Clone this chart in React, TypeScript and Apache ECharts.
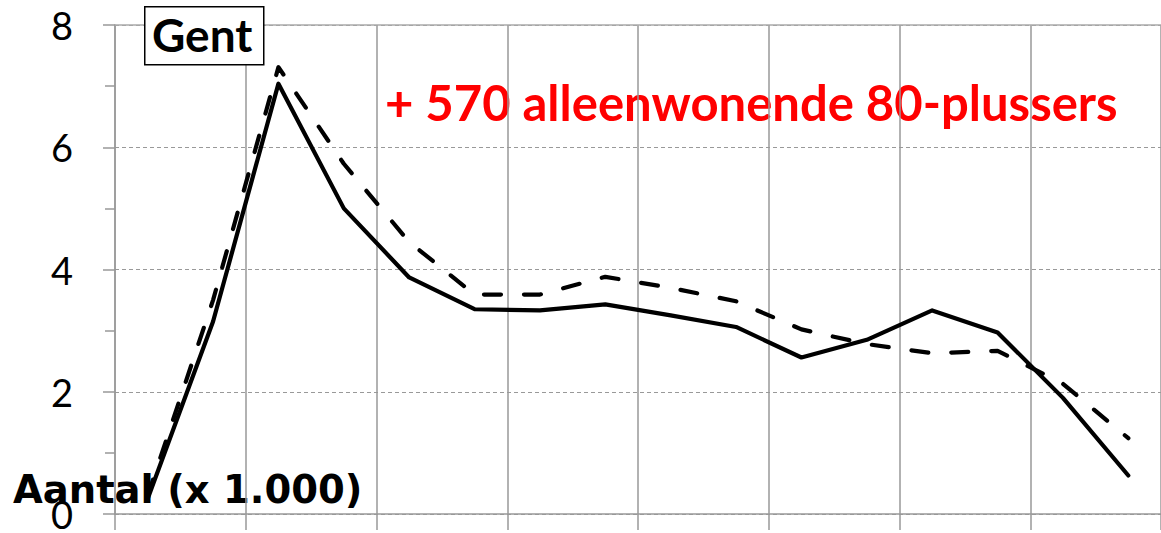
import React, { useEffect, useRef } from "react";
import * as echarts from "echarts";

const categories: string[] = ["1", "2", "3", "4", "5", "6", "7", "8", "9", "10", "11", "12", "13", "14", "15", "16"];
const solidValues: number[] = [0.25, 3.15, 7.04, 5.0, 3.87, 3.35, 3.33, 3.43, 3.25, 3.06, 2.56, 2.85, 3.33, 2.97, 1.9, 0.63];
const dashedValues: number[] = [0.3, 3.5, 7.31, 5.73, 4.45, 3.59, 3.59, 3.88, 3.7, 3.48, 3.02, 2.78, 2.63, 2.67, 2.13, 1.24];
const yTicks: number[] = [0, 2, 4, 6, 8];

const titleText = "Gent";
const noteText = "+ 570 alleenwonende 80-plussers";
const unitText = "Aantal (x 1.000)";

export default function App() {
  const ref = useRef<HTMLDivElement>(null);
  useEffect(() => {
    document.body.style.margin = "0";
    if (!ref.current) return;
    const chart = echarts.init(ref.current, undefined, { renderer: "svg" });
    const gray = "#999999";
    chart.setOption({
      animation: false,
      backgroundColor: "#ffffff",
      grid: { left: 115, right: -3, top: 25, bottom: 13, containLabel: false },
      xAxis: [
        {
          type: "category",
          data: categories,
          boundaryGap: true,
          axisLine: { show: true, lineStyle: { color: gray, width: 1.5 } },
          axisTick: { show: true, length: 16, interval: (i: number) => i % 2 === 0, lineStyle: { color: gray, width: 1.5 } },
          axisLabel: { show: false },
          splitLine: { show: true, interval: (i: number) => i % 2 === 0, lineStyle: { color: gray, width: 1.5, type: "solid" } },
        },
        {
          type: "category",
          data: categories,
          position: "top",
          boundaryGap: true,
          axisLine: { show: true, lineStyle: { color: "#aaaaaa", width: 1.5 } },
          axisTick: { show: false },
          axisLabel: { show: false },
          splitLine: { show: false },
        },
      ],
      yAxis: {
        type: "value",
        min: yTicks[0],
        max: yTicks[yTicks.length - 1],
        interval: 2,
        axisLine: { show: true, lineStyle: { color: gray, width: 1.5 } },
        axisTick: { show: true, length: 12, lineStyle: { color: gray, width: 1.5 } },
        minorTick: { show: true, splitNumber: 2, length: 10, lineStyle: { color: gray, width: 1.5 } },
        axisLabel: { show: true, margin: 42, fontSize: 38, color: "#000", fontFamily: "Lato" },
        splitLine: { show: true, lineStyle: { color: gray, width: 1.2, type: [4, 3] } },
      },
      series: [
        {
          type: "line",
          name: "solid",
          data: solidValues,
          symbol: "none",
          lineStyle: { color: "#000", width: 4.2, type: "solid", join: "round", cap: "round" },
          z: 3,
        },
        {
          type: "line",
          name: "dashed",
          data: dashedValues,
          symbol: "none",
          lineStyle: { color: "#000", width: 4.2, type: [17, 23], join: "round", cap: "round" },
          z: 3,
        },
      ],
      graphic: [
        {
          type: "text",
          left: 385,
          top: 77,
          style: { text: noteText, fontSize: 49, fontWeight: "bold", fontFamily: "Lato", fill: "#ff0000" },
          z: -5,
        },
        {
          type: "text",
          left: 13,
          top: 470,
          style: { text: unitText, fontSize: 38.5, fontWeight: "bold", fontFamily: "DejaVu Sans", fill: "#000" },
          z: -5,
        },
        {
          type: "rect",
          left: 144,
          top: 6,
          shape: { width: 119, height: 58 },
          style: { fill: "#fff", stroke: "#000", lineWidth: 1.5 },
          z: 10,
        },
        {
          type: "text",
          left: 152,
          top: 11,
          style: { text: titleText, fontSize: 46, fontWeight: "bold", fontFamily: "Lato", fill: "#000" },
          z: 11,
        },
      ],
    });
    return () => chart.dispose();
  }, []);
  return <div ref={ref} style={{ width: 1161, height: 533 }} />;
}
